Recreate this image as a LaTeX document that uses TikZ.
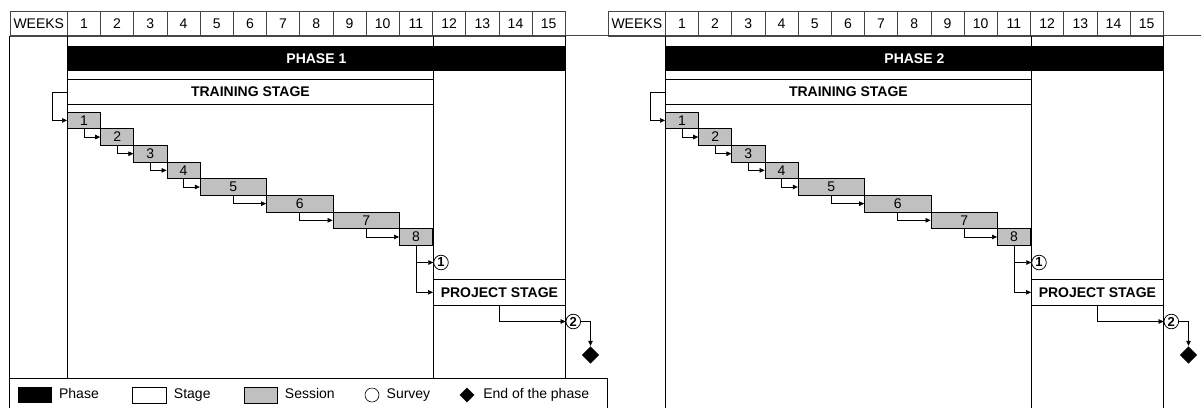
\documentclass[tikz,border=0pt]{standalone}
\usepackage{fontspec}
\setmainfont{Liberation Sans}
\usepackage{tikz}
\usetikzlibrary{arrows.meta,positioning,shapes.geometric}

\definecolor{sesgray}{RGB}{192,192,192}
\definecolor{gridgray}{RGB}{70,70,70}

\begin{document}
\begin{tikzpicture}[
  x=1pt, y=-1pt,
  >={Triangle[length=5pt,width=4.5pt]},
  font=\fontsize{14}{16}\selectfont,
  line width=0.75pt,
  weekcell/.style={draw=gridgray, line width=0.6pt, minimum height=24.7pt, inner sep=0pt, anchor=north west},
  phasebar/.style={fill=black, text=white, font=\fontsize{14}{16}\selectfont\bfseries, minimum height=25.3pt, inner sep=0pt, anchor=north west},
  stagebox/.style={draw=black, fill=white, font=\fontsize{14}{16}\selectfont\bfseries, minimum height=25.3pt, inner sep=0pt, anchor=north west},
  sessionbox/.style={draw=black, fill=sesgray, minimum height=16.65pt, inner sep=0pt, anchor=north west},
  survey/.style={circle, draw=black, fill=white, minimum size=14.6pt, inner sep=0pt, font=\fontsize{13}{15}\selectfont\bfseries},
  phaseend/.style={diamond, fill=black, minimum size=17.6pt, inner sep=0pt},
  flow/.style={->, line width=0.6pt},
  legtext/.style={inner sep=0pt, text height=10pt, text depth=3pt, anchor=west}
]

\useasboundingbox (0,0) rectangle (1201,408);

% Linie unter der Kopfzeile
\draw[gridgray, line width=0.6pt] (10,35.7) -- (1201,35.7);

\foreach \p/\dx/\yb in {1/0/378.3, 2/598/408} {
  \begin{scope}[xshift=\dx pt]
    % Kopfzeile: Wochen
    \node[weekcell, minimum width=57pt] (wks\p) at (10,11) {WEEKS};
    \foreach \w in {1,...,15}
      \node[weekcell, minimum width=33.2pt] (wk\p-\w) at ({67+(\w-1)*33.2},11) {\w};

    % Spaltenlinien
    \foreach \cx in {67,433,565}
      \draw (\cx,35.7) -- (\cx,\yb);

    % Phase und Stufen
    \node[phasebar, minimum width=498pt] (phase\p) at (67,45.7) {PHASE \p};
    \node[stagebox, minimum width=366pt] (train\p) at (67,79) {TRAINING STAGE};
    \node[stagebox, minimum width=132pt] (proj\p) at (433,279.3) {PROJECT STAGE};

    % Sitzungen: Nummer / Beginn / Ende (in Wochen)
    \foreach \n/\a/\b in {1/0/1, 2/1/2, 3/2/3, 4/3/4, 5/4/6, 6/6/8, 7/8/10, 8/10/11}
      \node[sessionbox, minimum width={(\b-\a)*33.2pt}] (ses\p-\n) at ({67+\a*33.2},{111.7+(\n-1)*16.65}) {\n};

    % Umfragen und Ende der Phase
    \node[survey] (sv\p-1) at (441,262.5) {1};
    \node[survey] (sv\p-2) at (573.3,321.5) {2};
    \node[phaseend] (end\p) at (590.5,355) {};

    % Ablauf
    \draw[flow] (train\p.west) -- ++(-15,0) |- (ses\p-1.west);
    \foreach \n [remember=\n as \m (initially 1)] in {2,...,8}
      \draw[flow] (ses\p-\m.south) |- (ses\p-\n.west);
    \draw[flow] (ses\p-8.south) |- (sv\p-1.west);
    \draw[flow] (ses\p-8.south) |- (proj\p.west);
    \draw[flow] (proj\p.south) |- (sv\p-2.west);
    \draw[flow] (sv\p-2.east) -| (end\p.north);
  \end{scope}
}

% Rahmen links und Legende
\draw (9.5,35.7) -- (9.5,408);
\draw (9.5,378.3) -- (607,378.3) -- (607,408);

\node[fill=black, minimum width=34pt, minimum height=16pt, inner sep=0pt, anchor=north west] (lgphase) at (18,387) {};
\node[legtext, right=6pt of lgphase] (lgphasetxt) {Phase};
\node[draw=black, fill=white, line width=0.6pt, minimum width=34pt, minimum height=16pt, inner sep=0pt, anchor=north west] (lgstage) at (132,387) {};
\node[legtext, right=7pt of lgstage] (lgstagetxt) {Stage};
\node[draw=black, fill=sesgray, line width=0.6pt, minimum width=33pt, minimum height=16pt, inner sep=0pt, anchor=north west] (lgses) at (244,387) {};
\node[legtext, right=7pt of lgses] (lgsestxt) {Session};
\node[circle, draw=black, line width=0.6pt, minimum size=14pt, inner sep=0pt] (lgsv) at (372,395) {};
\node[legtext, right=7pt of lgsv] (lgsvtxt) {Survey};
\node[phaseend, minimum size=15pt] (lgend) at (467,395) {};
\node[legtext, right=8pt of lgend] (lgendtxt) {End of the phase};

\end{tikzpicture}
\end{document}
